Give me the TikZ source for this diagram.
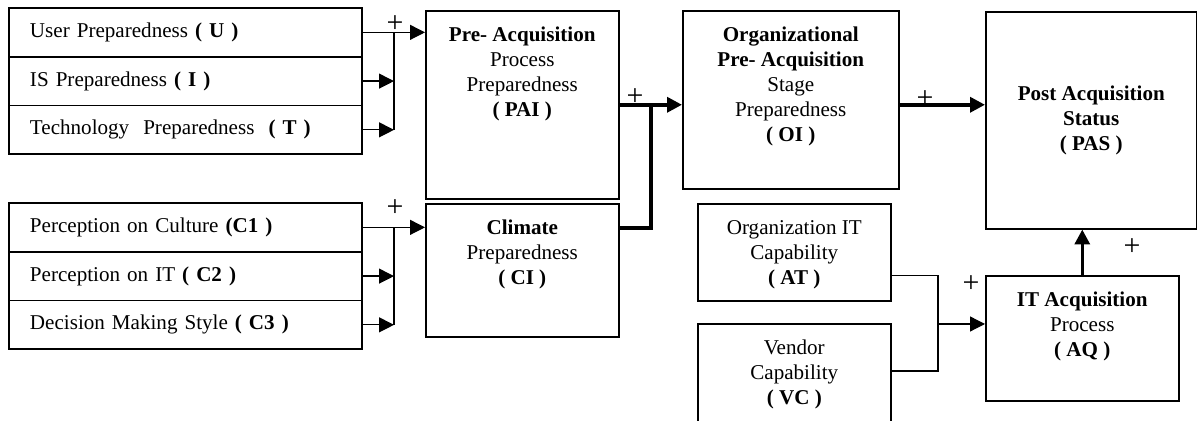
\documentclass[tikz,border=0pt]{standalone}
\usepackage{fontspec}
\setmainfont{Liberation Serif}
\usetikzlibrary{arrows.meta,positioning,calc}
\newcommand{\stagetext}[3]{\parbox[t][#2][t]{#1}{\centering\strut#3}}

\begin{document}
\begin{tikzpicture}[x=0.02cm,y=-0.02cm,
    every node/.style={font=\fontsize{12}{14.2}\selectfont},
    factor/.style={draw,line width=0.9pt,outer sep=0pt,text width=6.22cm,
                   inner xsep=0.42cm,minimum height=0.975cm,align=left},
    stage/.style={draw,line width=0.9pt,inner xsep=0pt,inner ysep=0.27cm,
                  anchor=north west},
    wire/.style={line width=0.7pt},
    heavy/.style={line width=2pt},
    feed/.style={wire,-{Triangle[length=8.5pt,width=8.5pt]}},
    strong/.style={heavy,-{Triangle[length=8.5pt,width=8.5pt]}},
    gain/.style={inner sep=0pt,font=\fontsize{17}{17}\selectfont}]
  \useasboundingbox (0,0) rectangle (1197,421);

  \node[factor,anchor=north west] (u) at (9,8) {User Preparedness \textbf{( U )}};
  \node[factor,below=0pt of u] (i) {IS Preparedness \textbf{( I )}};
  \node[factor,below=0pt of i] (t) {Technology\ \ Preparedness\ \ \textbf{( T )}};

  \node[factor,anchor=north west] (c1) at (9,203) {Perception on Culture \textbf{(C1 )}};
  \node[factor,below=0pt of c1] (c2) {Perception on IT \textbf{( C2 )}};
  \node[factor,below=0pt of c2] (c3) {Decision Making Style \textbf{( C3 )}};

  \node[stage] (pai) at (425,10) {\stagetext{3.86cm}{3.22cm}{\textbf{Pre- Acquisition}\\Process\\Preparedness\\\textbf{( PAI )}}};
  \node[stage] (ci) at (425,203) {\stagetext{3.86cm}{2.12cm}{\textbf{Climate}\\Preparedness\\\textbf{( CI )}}};
  \node[stage] (oi) at (682,10) {\stagetext{4.32cm}{3.02cm}{\textbf{Organizational}\\\textbf{Pre- Acquisition}\\Stage\\Preparedness\\\textbf{( OI )}}};
  \node[stage,minimum width=4.22cm,minimum height=4.34cm,align=center] (pas) at (985,11) {\textbf{Post Acquisition}\\\textbf{Status}\\\textbf{( PAS )}};
  \node[stage] (orgit) at (697,203) {\stagetext{3.86cm}{1.40cm}{Organization IT\\Capability\\\textbf{( AT )}}};
  \node[stage] (vendor) at (697,323) {\stagetext{3.86cm}{1.66cm}{Vendor\\Capability\\\textbf{( VC )}}};
  \node[stage] (aq) at (985,275) {\stagetext{3.86cm}{1.96cm}{\textbf{IT Acquisition}\\Process\\\textbf{( AQ )}}};

  \coordinate (j1) at (394,35);
  \coordinate (j2) at (394,228);
  \draw[feed] (u.east) -- (u.east -| pai.west);
  \draw[feed] (i.east) -- (i.east -| j1);
  \draw[feed] (t.east) -- (t.east -| j1);
  \draw[wire] (u.east -| j1) -- (t.east -| j1);
  \draw[feed] (c1.east) -- (c1.east -| ci.west);
  \draw[feed] (c2.east) -- (c2.east -| j2);
  \draw[feed] (c3.east) -- (c3.east -| j2);
  \draw[wire] (c1.east -| j2) -- (c3.east -| j2);

  \coordinate (j3) at ($(pai.east)!0.5!(pai.east -| oi.west)$);
  \draw[strong] (pai.east) -- (pai.east -| oi.west);
  \draw[heavy] ([yshift=-0.5cm]ci.north east) -| (j3);
  \draw[strong] (pai.east -| oi.east) -- (pai.east -| pas.west);

  \coordinate (j4) at (938,324);
  \draw[wire] ([yshift=0.52cm]orgit.south east) -| (j4) |- ([yshift=-0.96cm]vendor.north east);
  \draw[feed] (j4) -- (j4 -| aq.west);
  \draw[strong] (aq.north) -- (aq.north |- pas.south);

  \node[gain] (g1) at (395,24) {+};
  \node[gain] (g2) at (395,208) {+};
  \node[gain] (g3) at (635,97) {+};
  \node[gain] (g4) at (925,99) {+};
  \node[gain] (g5) at (971,284) {+};
  \node[gain] (g6) at (1132,247) {+};
\end{tikzpicture}
\end{document}
